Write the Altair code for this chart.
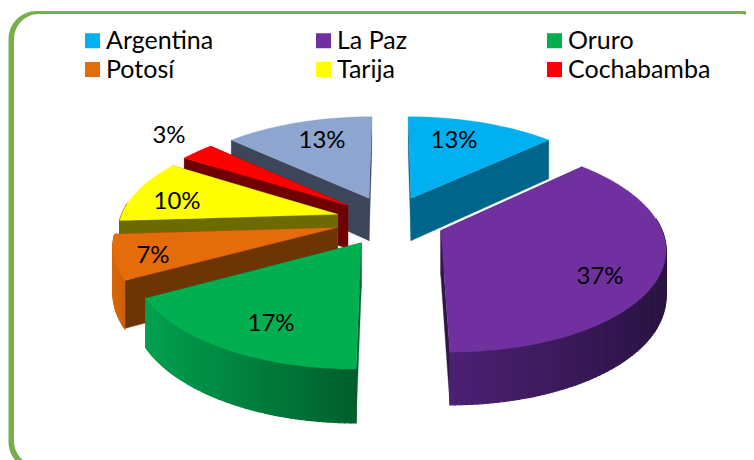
import math
import altair as alt

regions = ["Argentina", "La Paz", "Oruro", "Potosí", "Tarija", "Cochabamba", "Otros"]
shares = [13, 37, 17, 7, 10, 3, 13]
top_colors = ["#00B0F0", "#7030A0", "#00B050", "#E46C0A", "#FFFF00", "#FF0000", "#8EA5CF"]
wall_colors = ["#00658A", "#2E1747", "#00602C", "#6E3504", "#6B6B00", "#700000", "#3D4559"]
rim_left = ["#00658A", "#4C2074", "#00A04E", "#D9660A", "#6B6B00", "#700000", "#3D4559"]
rim_right = ["#00658A", "#2A1442", "#005E2C", "#C86008", "#6B6B00", "#700000", "#3D4559"]
paint_order = [6, 0, 5, 4, 3, 1, 2]
legend_order = [0, 3, 1, 4, 2, 5]
label_x = [454, 600, 271, 153, 177, 169, 322]
label_y = [141, 277, 324, 256, 202, 136, 141]

CX, CY, RX, RY, DEPTH, PERSP, EXPLODE = 390, 220.5, 218, 100, 44, 0.15, 0.25


def project(x, y, z=0.0):
    s = 1 / (1 + PERSP * y)
    return [CX + RX * x * s, CY - RY * y * s + DEPTH * z * s]


def mix(a, b, t):
    ca = [int(a[i:i + 2], 16) for i in (1, 3, 5)]
    cb = [int(b[i:i + 2], 16) for i in (1, 3, 5)]
    return "#" + "".join(f"{round(p + (q - p) * t):02x}" for p, q in zip(ca, cb))


def feature(points, fill, seam=0.3):
    ring = points + [points[0]]
    return {"type": "Feature", "properties": {"fill": fill, "seam": seam},
            "geometry": {"type": "Polygon", "coordinates": [ring]}}


def slice_features(i):
    total = sum(shares)
    a0 = 2 * math.pi * sum(shares[:i]) / total
    a1 = 2 * math.pi * sum(shares[:i + 1]) / total
    mid = (a0 + a1) / 2
    ox, oy = EXPLODE * math.sin(mid), EXPLODE * math.cos(mid)
    steps = max(8, int(shares[i] * 3))
    angles = [a0 + (a1 - a0) * k / steps for k in range(steps + 1)]
    arc = [(ox + math.sin(a), oy + math.cos(a)) for a in angles]
    out = []
    for (x, y) in (arc[0], arc[-1]):
        out.append(feature([project(ox, oy), project(x, y), project(x, y, 1), project(ox, oy, 1)], wall_colors[i]))
    xs = [project(*p)[0] for p in arc]
    lo, hi = min(xs), max(xs)
    for k in range(steps):
        # the part of the rim that faces away from the viewer stays hidden
        if math.cos((angles[k] + angles[k + 1]) / 2) > 0.1:
            continue
        p, q = arc[k], arc[k + 1]
        t = ((project(*p)[0] + project(*q)[0]) / 2 - lo) / (hi - lo)
        out.append(feature([project(*p), project(*q), project(*q, 1), project(*p, 1)],
                           mix(rim_left[i], rim_right[i], t), seam=1.2))
    out.append(feature([project(ox, oy)] + [project(*p) for p in arc], top_colors[i]))
    return out


features = []
for i in paint_order:
    features.extend(slice_features(i))

W, H = 738, 452
OFF = 8

px = alt.Scale(domain=[0, W], range=[0, W])
py = alt.Scale(domain=[0, H], range=[0, H])

frame_outer = alt.Chart(alt.Data(values=[{"a": 0.5, "b": 770 - OFF, "c": 3, "d": 470 - OFF}])).mark_rect(
    fill="#77AF4A", cornerRadius=28, clip=True
).encode(x=alt.X("a:Q", scale=px, axis=None), x2="b:Q", y=alt.Y("c:Q", scale=py, axis=None), y2="d:Q")
frame_inner = alt.Chart(alt.Data(values=[{"a": 6, "b": 765 - OFF, "c": 6, "d": 466 - OFF}])).mark_rect(
    fill="white", cornerRadius=25, clip=True
).encode(x=alt.X("a:Q", scale=px, axis=None), x2="b:Q", y=alt.Y("c:Q", scale=py, axis=None), y2="d:Q")

shapes = alt.Chart(
    alt.Data(values={"type": "FeatureCollection", "features": features},
             format=alt.DataFormat(property="features", type="json"))
).mark_geoshape().encode(
    color=alt.Color("properties.fill:N", scale=None),
    stroke=alt.Stroke("properties.fill:N", scale=None),
    strokeWidth=alt.StrokeWidth("properties.seam:Q", scale=None),
).project(type="identity", scale=1, translate=[-OFF, -OFF])

rows = [{"region": r, "label": f"{s}%", "lx": x - OFF, "ly": y - OFF}
        for r, s, x, y in zip(regions, shares, label_x, label_y)]

legend_domain = [regions[i] for i in legend_order]
legend_range = [top_colors[i] for i in legend_order]

legend_marks = alt.Chart(alt.Data(values=rows[:6])).mark_square(opacity=0, size=1).encode(
    x=alt.X("lx:Q", scale=px, axis=None),
    y=alt.Y("ly:Q", scale=py, axis=None),
    color=alt.Color(
        "region:N",
        scale=alt.Scale(domain=legend_domain, range=legend_range),
        sort=legend_domain,
        legend=alt.Legend(
            title=None, orient="none", legendX=72, legendY=20, columns=3,
            gridAlign="all", columnPadding=62, rowPadding=3,
            symbolType="square", symbolSize=225, symbolOpacity=1, symbolStrokeWidth=0,
            labelFont="Lato", labelFontSize=25, labelColor="#000000", labelLimit=300,
            labelOffset=1,
        ),
    ),
)

labels = alt.Chart(alt.Data(values=rows)).mark_text(
    font="Lato", fontSize=24, color="#000000", align="center", baseline="middle"
).encode(
    x=alt.X("lx:Q", scale=px, axis=None),
    y=alt.Y("ly:Q", scale=py, axis=None),
    text="label:N",
)

chart = alt.layer(frame_outer, frame_inner, shapes, legend_marks, labels).resolve_scale(
    color="independent", stroke="independent"
).properties(
    width=W, height=H, padding=0, autosize=alt.AutoSizeParams(type="none"), background="white"
).configure_view(stroke=None)

chart.save("out.html", embed_options={"renderer": "svg", "actions": False})
